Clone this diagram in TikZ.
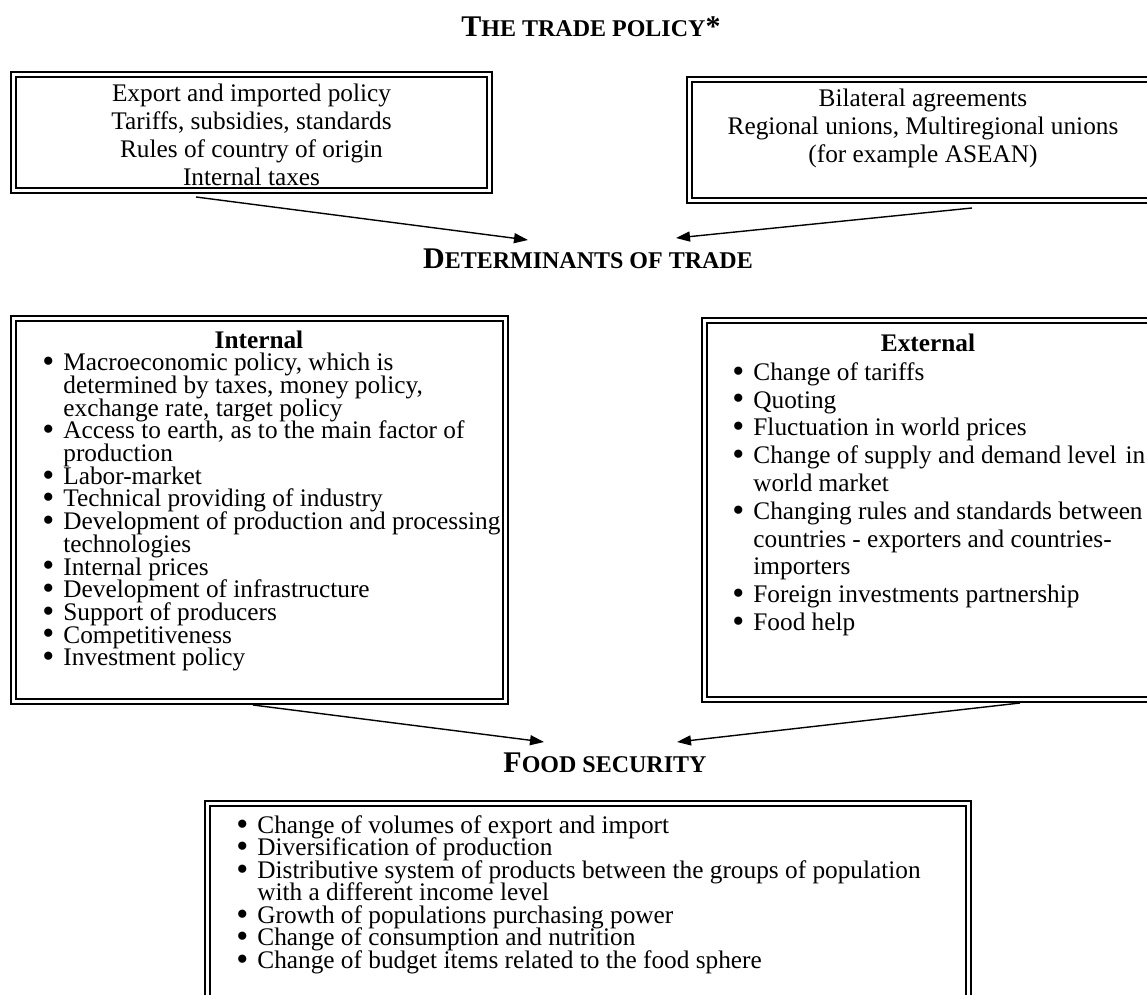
\documentclass[tikz,border=0pt]{standalone}
\usepackage{fontspec}
\setmainfont{Liberation Serif}
\usetikzlibrary{arrows.meta, positioning}
\tikzstyle{dbox} = [draw, double, line width=1.2pt, double distance=1.3pt, inner sep=0pt, outer sep=1.85pt, anchor=north west]
\tikzstyle{boxtext} = [font=\fontsize{12.65}{14}\selectfont, align=center, anchor=north, inner sep=0pt]
\tikzstyle{listing} = [align=left, anchor=north west, inner sep=0pt]
\tikzstyle{heading} = [font=\bfseries\fontsize{15}{17}\selectfont, anchor=base, inner sep=0pt]
\tikzstyle{subhead} = [font=\bfseries\fontsize{12.65}{14}\selectfont, anchor=base, inner sep=0pt]
\tikzstyle{arrow} = [-{Triangle[length=7pt,width=5pt]}, line width=0.7pt]
\newcommand{\smcap}[1]{{\fontsize{12}{14}\selectfont #1}}
\newcommand{\itm}{\makebox[10.5pt][l]{\raisebox{-0.9pt}[0pt][0pt]{\scalebox{1.35}{\textbullet}}}}
\newcommand{\cont}{\hspace*{10.5pt}}
\newcommand{\tightlines}[1]{\fontsize{12.65}{#1}\selectfont\lineskiplimit=-100pt\lineskip=0pt}

\begin{document}
\begin{tikzpicture}[x=1pt, y=-1pt]
    \useasboundingbox (0,0) rectangle (573.5,497.5);

    % headings
    \node (policy) [heading] at (295.5,18.3) {T\smcap{HE TRADE POLICY}*};
    \node (determ) [heading] at (294,134.5) {D\smcap{ETERMINANTS OF TRADE}};
    \node (food) [heading] at (302.5,386) {F\smcap{OOD SECURITY}};

    % trade policy boxes
    \node (policybox) [dbox, minimum width=237.8pt, minimum height=57.8pt] at (5,35.5) {};
    \node (policytext) [boxtext] at (125.75,41.6) {Export and imported policy\\Tariffs, subsidies, standards\\Rules of country of origin\\Internal taxes};
    \node (agreebox) [dbox, minimum width=233.3pt, minimum height=60.3pt] at (343,38) {};
    \node (agreetext) [boxtext] at (461.5,44.1) {Bilateral agreements\\Regional unions, Multiregional unions\\(for example ASEAN)};

    % determinants boxes
    \node (internbox) [dbox, minimum width=245.8pt, minimum height=191.3pt] at (5,157.5) {};
    \node (internhead) [subhead] at (129.5,174) {Internal};
    \node (interntext) [listing, font=\tightlines{11.35}] at (21,176.4) {%
        \itm Macroeconomic policy, which is\\
        \cont determined by taxes, money policy,\\
        \cont exchange rate, target policy\\
        \itm Access to earth, as to the main factor of\\
        \cont production\\
        \itm Labor-market\\
        \itm Technical providing of industry\\
        \itm Development of production and processing\\
        \cont technologies\\
        \itm Internal prices\\
        \itm Development of infrastructure\\
        \itm Support of producers\\
        \itm Competitiveness\\
        \itm Investment policy};

    \node (externbox) [dbox, minimum width=223.3pt, minimum height=189.3pt] at (350.5,158.5) {};
    \node (externhead) [subhead] at (464,175.5) {External};
    \node (externtext) [listing, font=\tightlines{13.9}] at (366,181) {%
        \itm Change of tariffs\\
        \itm Quoting\\
        \itm Fluctuation in world prices\\
        \itm Change of supply and demand level\hspace{4.5pt}in\\
        \cont world market\\
        \itm Changing rules and standards between\\
        \cont countries - exporters and countries-\\
        \cont importers\\
        \itm Foreign investments partnership\\
        \itm Food help};

    % food security box
    \node (foodbox) [dbox, minimum width=380.3pt, minimum height=98.8pt] at (102,400) {};
    \node (foodtext) [listing, font=\tightlines{11.25}] at (118,407.5) {%
        \itm Change of volumes of export and import\\
        \itm Diversification of production\\
        \itm Distributive system of products between the groups of population\\
        \cont with a different income level\\
        \itm Growth of populations purchasing power\\
        \itm Change of consumption and nutrition\\
        \itm Change of budget items related to the food sphere};

    % arrow ends
    \coordinate (detleft) at (264,120);
    \coordinate (detright) at (338,119);
    \coordinate (foodleft) at (272,371);
    \coordinate (foodright) at (338.5,371);

    \draw [arrow] ([xshift=93pt, yshift=-1.5pt]policybox.south west) -- (detleft);
    \draw [arrow] ([xshift=143pt, yshift=-2pt]agreebox.south west) -- (detright);
    \draw [arrow] ([xshift=121.5pt]internbox.south west) -- (foodleft);
    \draw [arrow] ([xshift=159.5pt]externbox.south west) -- (foodright);

\end{tikzpicture}
\end{document}
